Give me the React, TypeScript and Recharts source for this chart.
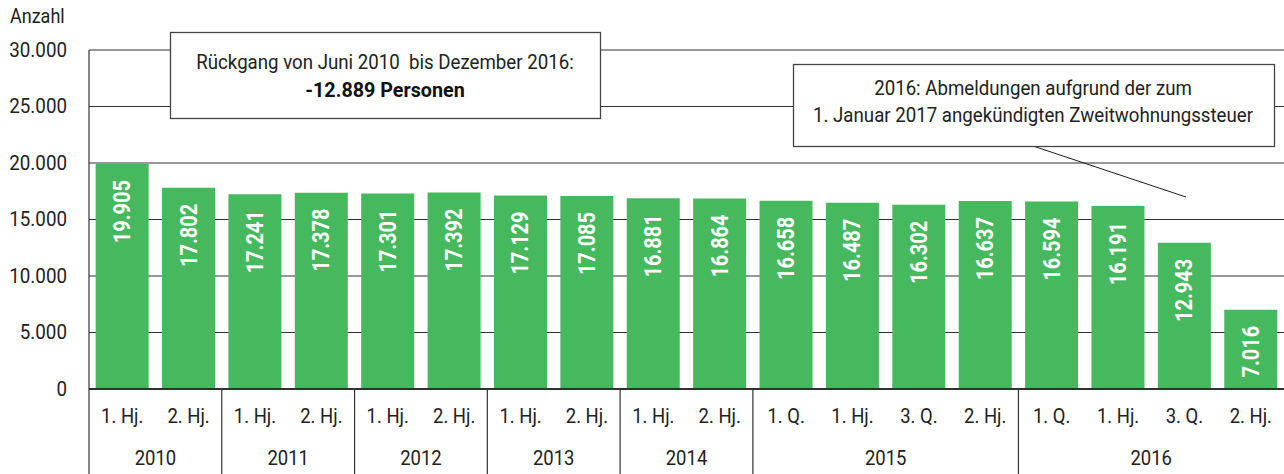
import React from 'react';
import { BarChart, Bar, XAxis, YAxis, CartesianGrid, LabelList } from 'recharts';

const periods = ['1. Hj.', '2. Hj.', '1. Hj.', '2. Hj.', '1. Hj.', '2. Hj.', '1. Hj.', '2. Hj.', '1. Hj.', '2. Hj.', '1. Q.', '1. Hj.', '3. Q.', '2. Hj.', '1. Q.', '1. Hj.', '3. Q.', '2. Hj.'];
const years = ['2010', '2010', '2011', '2011', '2012', '2012', '2013', '2013', '2014', '2014', '2015', '2015', '2015', '2015', '2016', '2016', '2016', '2016'];
const values = [19905, 17802, 17241, 17378, 17301, 17392, 17129, 17085, 16881, 16864, 16658, 16487, 16302, 16637, 16594, 16191, 12943, 7016];
const yTicks = [0, 5000, 10000, 15000, 20000, 25000, 30000];

const axisTitle = 'Anzahl';
const note1Line1 = 'Rückgang von Juni 2010  bis Dezember 2016:';
const note1Line2 = '-12.889 Personen';
const note2Line1 = '2016: Abmeldungen aufgrund der zum';
const note2Line2 = '1. Januar 2017 angekündigten Zweitwohnungssteuer';

const data = values.map((v, i) => ({ id: `${years[i]}-${periods[i]}-${i}`, value: v }));

const W = 1284;
const H = 474;
const LEFT = 89;
const TOP = 50;
const BOTTOM = 85;
const FONT = "Roboto, 'Liberation Sans', sans-serif";
const BW = (W - LEFT) / data.length;

const fmt = (v: number) => String(v).replace(/\B(?=(\d{3})+(?!\d))/g, '.');

type CTextProps = {
  x: number;
  y: number;
  anchor?: 'start' | 'middle' | 'end';
  size: number;
  sx?: number;
  weight?: number;
  fill?: string;
  children: React.ReactNode;
};

const CText = ({ x, y, anchor = 'middle', size, sx = 0.9, weight = 400, fill = '#222', children }: CTextProps) => (
  <text
    transform={`translate(${x}, ${y}) scale(${sx}, 1)`}
    textAnchor={anchor}
    dominantBaseline="central"
    fontSize={size}
    fontWeight={weight}
    fontFamily={FONT}
    fill={fill}
    xmlSpace="preserve"
    style={{ whiteSpace: 'pre' }}
  >
    {children}
  </text>
);

const YTick = (props: any) => {
  const { x, y, payload } = props;
  return (
    <CText x={x} y={y} anchor="end" size={20} sx={0.94}>
      {fmt(payload.value)}
    </CText>
  );
};

const XTick = (props: any) => {
  const { x, y, index } = props;
  const yr = years[index];
  const first = index === 0 || years[index - 1] !== yr;
  let groupSize = 0;
  if (first) {
    for (let j = index; j < years.length && years[j] === yr; j++) groupSize++;
  }
  const left = x - BW / 2;
  return (
    <g>
      <CText x={x} y={y + 27} size={21} sx={0.88}>
        {periods[index]}
      </CText>
      {first && (
        <g>
          <line x1={left} y1={y} x2={left} y2={y + BOTTOM} stroke="#333" strokeWidth={1.2} />
          <CText x={left + (groupSize * BW) / 2} y={y + 69} size={21} sx={0.88}>
            {yr}
          </CText>
        </g>
      )}
    </g>
  );
};

const BarLabel = (props: any) => {
  const { x, y, width, value } = props;
  const cx = x + width / 2;
  return (
    <text
      transform={`translate(${cx}, ${y + 16}) rotate(-90) scale(0.87, 1)`}
      textAnchor="end"
      dominantBaseline="central"
      fontSize={23}
      fontWeight={700}
      fontFamily={FONT}
      fill="#ffffff"
    >
      {fmt(value)}
    </text>
  );
};

export default function App() {
  return (
    <div style={{ position: 'absolute', left: 0, top: 0, width: W, height: H, background: '#fff' }}>
      <BarChart width={W} height={H} data={data} margin={{ top: TOP, right: 0, bottom: 0, left: 0 }} barCategoryGap="10%">
        <CartesianGrid vertical={false} stroke="#333" strokeWidth={1} />
        <XAxis
          dataKey="id"
          interval={0}
          height={BOTTOM}
          tickSize={0}
          tickMargin={0}
          tickLine={false}
          axisLine={{ stroke: '#111', strokeWidth: 1.3 }}
          tick={<XTick />}
        />
        <YAxis
          domain={[0, 30000]}
          ticks={yTicks}
          width={LEFT}
          tickSize={0}
          tickMargin={22}
          tickLine={false}
          axisLine={{ stroke: '#333', strokeWidth: 1.2 }}
          tick={<YTick />}
          interval={0}
        />
        <Bar dataKey="value" fill="#46b85e" isAnimationActive={false}>
          <LabelList dataKey="value" content={<BarLabel />} />
        </Bar>
      </BarChart>
      <svg width={W} height={H} style={{ position: 'absolute', left: 0, top: 0, pointerEvents: 'none' }}>
        <CText x={10} y={16} anchor="start" size={20} sx={0.9}>
          {axisTitle}
        </CText>
        <rect x={170.5} y={32.5} width={430} height={86} fill="#fff" stroke="#444" strokeWidth={1.3} />
        <CText x={385} y={62} size={21} sx={0.89}>
          {note1Line1}
        </CText>
        <CText x={385} y={90} size={21} sx={0.94} weight={700} fill="#111">
          {note1Line2}
        </CText>
        <line x1={1033} y1={146} x2={1186} y2={197} stroke="#222" strokeWidth={1} />
        <rect x={793.5} y={64.5} width={481} height={82} fill="#fff" stroke="#444" strokeWidth={1.3} />
        <CText x={1033} y={88} size={21} sx={0.89}>
          {note2Line1}
        </CText>
        <CText x={1033} y={115} size={21} sx={0.89}>
          {note2Line2}
        </CText>
      </svg>
    </div>
  );
}
